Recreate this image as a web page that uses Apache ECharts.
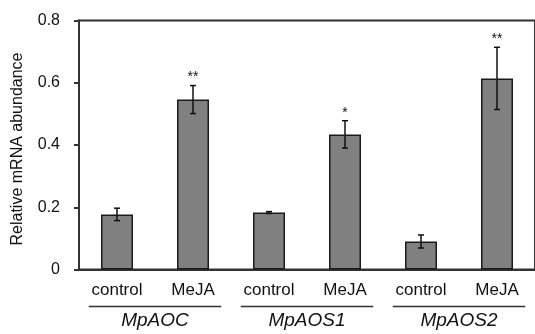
<!DOCTYPE html>
<html>
<head>
<meta charset="utf-8">
<script src="https://cdn.jsdelivr.net/npm/echarts@6/dist/echarts.min.js"></script>
<style>
  html, body { margin: 0; padding: 0; background: #fff; }
  #chart { width: 535px; height: 334px; }
</style>
</head>
<body>
<div id="chart"></div>
<script>
var categories = ['control', 'MeJA', 'control', 'MeJA', 'control', 'MeJA'];
var groups = ['MpAOC', 'MpAOS1', 'MpAOS2'];
var means = [0.177, 0.546, 0.183, 0.434, 0.090, 0.614];
var errors = [0.020, 0.045, 0.003, 0.044, 0.021, 0.100];
var stars = ['', '**', '', '*', '', '**'];
var yTicks = [0, 0.2, 0.4, 0.6, 0.8];

var font = '"Liberation Sans", Arial, sans-serif';
var lineColor = '#333';

var errData = means.map(function (m, i) {
  return [i, m - errors[i], m + errors[i], stars[i]];
});

var chart = echarts.init(document.getElementById('chart'));

var option = {
  animation: false,
  grid: {
    left: 79,
    top: 20.5,
    width: 461,
    height: 249,
    show: true,
    borderColor: lineColor,
    borderWidth: 2,
    containLabel: false
  },
  xAxis: [{
    type: 'category',
    data: categories,
    position: 'bottom',
    axisLine: { lineStyle: { color: lineColor, width: 2 } },
    axisTick: { show: false },
    axisLabel: {
      color: '#111',
      fontSize: 17,
      fontFamily: font,
      margin: 12
    }
  }, {
    // gene names under the category labels
    type: 'category',
    data: groups,
    position: 'bottom',
    axisLine: { show: false },
    axisTick: { show: false },
    axisLabel: {
      color: '#111',
      fontSize: 19,
      fontStyle: 'italic',
      fontFamily: font,
      margin: 42
    }
  }],
  yAxis: {
    type: 'value',
    min: yTicks[0],
    max: yTicks[yTicks.length - 1],
    interval: 0.2,
    name: 'Relative mRNA abundance',
    nameLocation: 'middle',
    nameGap: 53,
    nameTextStyle: { color: '#111', fontSize: 16, fontFamily: font, padding: [0, 0, 0, -8] },
    splitLine: { show: false },
    axisLine: { show: true, lineStyle: { color: lineColor, width: 2 } },
    axisTick: { show: true, length: 5, lineStyle: { color: lineColor, width: 2 } },
    axisLabel: {
      color: '#111',
      fontSize: 16,
      fontFamily: font,
      margin: 19
    }
  },
  series: [{
    type: 'bar',
    data: means,
    barWidth: 32,
    itemStyle: {
      color: '#808080',
      borderColor: '#1a1a1a',
      borderWidth: 1.5
    }
  }, {
    // error bars + significance marks
    type: 'custom',
    data: errData,
    clip: false,
    z: 5,
    renderItem: function (params, api) {
      var x = api.coord([api.value(0), 0])[0];
      var lo = api.coord([api.value(0), api.value(1)])[1];
      var hi = api.coord([api.value(0), api.value(2)])[1];
      var cap = 3;
      var style = { stroke: '#111', lineWidth: 1.5 };
      var kids = [
        { type: 'line', shape: { x1: x, y1: lo, x2: x, y2: hi }, style: style },
        { type: 'line', shape: { x1: x - cap, y1: lo, x2: x + cap, y2: lo }, style: style },
        { type: 'line', shape: { x1: x - cap, y1: hi, x2: x + cap, y2: hi }, style: style }
      ];
      var s = errData[params.dataIndex][3];
      if (s) {
        kids.push({
          type: 'text',
          style: {
            x: x, y: hi - 1,
            text: s,
            fill: '#111',
            font: '14px ' + font,
            textAlign: 'center',
            textVerticalAlign: 'bottom'
          }
        });
      }
      return { type: 'group', children: kids };
    }
  }, {
    // underline for each gene group
    type: 'custom',
    xAxisIndex: 1,
    data: groups.map(function (g, i) { return [i, 0]; }),
    clip: false,
    silent: true,
    renderItem: function (params, api) {
      var p = api.coord([api.value(0), 0]);
      var half = api.size([1, 0])[0] * 0.436;
      return {
        type: 'line',
        shape: { x1: p[0] - half, y1: p[1] + 37, x2: p[0] + half, y2: p[1] + 37 },
        style: { stroke: lineColor, lineWidth: 1.5 }
      };
    }
  }]
};

chart.setOption(option);
</script>
</body>
</html>
